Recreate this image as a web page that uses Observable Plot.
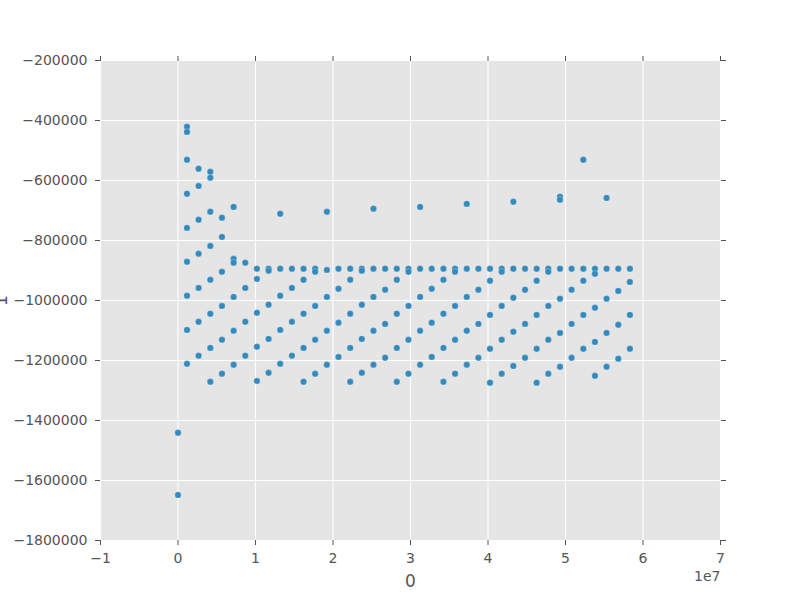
<!DOCTYPE html>
<html>
<head>
<meta charset="utf-8">
<script src="https://cdn.jsdelivr.net/npm/d3@7"></script>
<script src="https://cdn.jsdelivr.net/npm/@observablehq/plot@0.6"></script>
<style>
  html, body { margin: 0; padding: 0; background: #ffffff; }
  #chart { width: 800px; height: 600px; }
</style>
</head>
<body>
<div id="chart"></div>
<script>
// Column "0" (x) and column "1" (y) of the scatter.
const xValues = [
  0, 0,
  1.16e6, 1.16e6, 1.16e6, 1.16e6, 1.16e6, 1.16e6, 1.16e6, 1.16e6, 1.16e6,
  2.66e6, 2.66e6, 2.66e6, 2.66e6, 2.66e6, 2.66e6, 2.66e6,
  4.17e6, 4.17e6, 4.17e6, 4.17e6, 4.17e6, 4.17e6, 4.17e6, 4.17e6,
  5.67e6, 5.67e6, 5.67e6, 5.67e6, 5.67e6, 5.67e6,
  7.18e6, 7.18e6, 7.18e6, 7.18e6, 7.18e6, 7.18e6,
  8.68e6, 8.68e6, 8.68e6, 8.68e6,
  10.18e6, 10.18e6, 10.18e6, 10.18e6, 10.18e6,
  11.69e6, 11.69e6, 11.69e6, 11.69e6, 11.69e6,
  13.19e6, 13.19e6, 13.19e6, 13.19e6, 13.19e6,
  14.70e6, 14.70e6, 14.70e6, 14.70e6,
  16.20e6, 16.20e6, 16.20e6, 16.20e6, 16.20e6,
  17.70e6, 17.70e6, 17.70e6, 17.70e6, 17.70e6,
  19.21e6, 19.21e6, 19.21e6, 19.21e6, 19.21e6,
  20.71e6, 20.71e6, 20.71e6, 20.71e6,
  22.22e6, 22.22e6, 22.22e6, 22.22e6, 22.22e6,
  23.72e6, 23.72e6, 23.72e6, 23.72e6, 23.72e6,
  25.22e6, 25.22e6, 25.22e6, 25.22e6, 25.22e6,
  26.73e6, 26.73e6, 26.73e6, 26.73e6,
  28.23e6, 28.23e6, 28.23e6, 28.23e6, 28.23e6,
  29.74e6, 29.74e6, 29.74e6, 29.74e6, 29.74e6,
  31.24e6, 31.24e6, 31.24e6, 31.24e6, 31.24e6,
  32.74e6, 32.74e6, 32.74e6, 32.74e6,
  34.25e6, 34.25e6, 34.25e6, 34.25e6, 34.25e6,
  35.75e6, 35.75e6, 35.75e6, 35.75e6, 35.75e6,
  37.26e6, 37.26e6, 37.26e6, 37.26e6, 37.26e6,
  38.76e6, 38.76e6, 38.76e6, 38.76e6,
  40.26e6, 40.26e6, 40.26e6, 40.26e6, 40.26e6,
  41.77e6, 41.77e6, 41.77e6, 41.77e6, 41.77e6,
  43.27e6, 43.27e6, 43.27e6, 43.27e6, 43.27e6,
  44.78e6, 44.78e6, 44.78e6, 44.78e6,
  46.28e6, 46.28e6, 46.28e6, 46.28e6, 46.28e6,
  47.78e6, 47.78e6, 47.78e6, 47.78e6, 47.78e6,
  49.29e6, 49.29e6, 49.29e6, 49.29e6, 49.29e6, 49.29e6,
  50.79e6, 50.79e6, 50.79e6, 50.79e6,
  52.30e6, 52.30e6, 52.30e6, 52.30e6, 52.30e6,
  53.80e6, 53.80e6, 53.80e6, 53.80e6, 53.80e6,
  55.30e6, 55.30e6, 55.30e6, 55.30e6, 55.30e6,
  56.81e6, 56.81e6, 56.81e6, 56.81e6,
  58.31e6, 58.31e6, 58.31e6, 58.31e6
];

const yValues = [
  -1441000, -1648000,
  -421000, -438000, -531000, -644000, -758000, -871000, -984000, -1098000, -1211000,
  -561000, -618000, -731000, -844000, -958000, -1071000, -1184000,
  -571000, -591000, -704000, -818000, -931000, -1044000, -1158000, -1271000,
  -724000, -788000, -904000, -1018000, -1131000, -1244000,
  -688000, -861000, -874000, -988000, -1101000, -1214000,
  -874000, -958000, -1071000, -1184000,
  -894000, -928000, -1041000, -1154000, -1268000,
  -894000, -901000, -1014000, -1128000, -1241000,
  -711000, -894000, -984000, -1098000, -1211000,
  -894000, -958000, -1071000, -1184000,
  -894000, -931000, -1044000, -1158000, -1271000,
  -894000, -904000, -1018000, -1131000, -1244000,
  -704000, -898000, -988000, -1101000, -1214000,
  -894000, -961000, -1074000, -1188000,
  -894000, -931000, -1044000, -1158000, -1271000,
  -894000, -901000, -1014000, -1128000, -1241000,
  -694000, -894000, -988000, -1101000, -1214000,
  -894000, -964000, -1078000, -1191000,
  -894000, -931000, -1044000, -1158000, -1271000,
  -894000, -904000, -1018000, -1131000, -1244000,
  -688000, -894000, -988000, -1101000, -1214000,
  -894000, -961000, -1074000, -1188000,
  -894000, -931000, -1044000, -1158000, -1271000,
  -894000, -904000, -1018000, -1131000, -1244000,
  -678000, -894000, -988000, -1101000, -1214000,
  -894000, -964000, -1078000, -1191000,
  -894000, -934000, -1048000, -1161000, -1274000,
  -894000, -904000, -1018000, -1131000, -1244000,
  -671000, -894000, -991000, -1104000, -1218000,
  -894000, -964000, -1078000, -1191000,
  -894000, -934000, -1048000, -1161000, -1274000,
  -894000, -904000, -1018000, -1131000, -1244000,
  -654000, -664000, -894000, -994000, -1108000, -1221000,
  -894000, -964000, -1078000, -1191000,
  -531000, -894000, -934000, -1048000, -1161000,
  -894000, -911000, -1024000, -1138000, -1251000,
  -658000, -894000, -994000, -1108000, -1221000,
  -894000, -968000, -1081000, -1194000,
  -894000, -938000, -1048000, -1161000
];

const xTicks = [-1e7, 0, 1e7, 2e7, 3e7, 4e7, 5e7, 6e7, 7e7];
const yTicks = [-1800000, -1600000, -1400000, -1200000, -1000000, -800000, -600000, -400000, -200000];
const xLabel = "0";
const yLabel = "1";
const xOffsetText = "1e7";

const points = xValues.map((x, i) => ({x, y: yValues[i]}));
const fmtInt = d3.format("d");
const tickColor = "#555555";
const font = "DejaVu Sans, sans-serif";

const chart = Plot.plot({
  width: 800,
  height: 600,
  marginLeft: 100,
  marginRight: 80,
  marginTop: 60,
  marginBottom: 60,
  style: {background: "#ffffff", fontFamily: font, fontSize: "14px", color: tickColor},
  x: {domain: [-1e7, 7e7], label: null},
  y: {domain: [-1800000, -200000], label: null},
  marks: [
    Plot.frame({fill: "#E5E5E5", stroke: "none"}),
    Plot.gridX(xTicks, {stroke: "#ffffff", strokeOpacity: 1, strokeWidth: 1.1}),
    Plot.gridY(yTicks, {stroke: "#ffffff", strokeOpacity: 1, strokeWidth: 1.1}),
    Plot.dot(points, {x: "x", y: "y", r: 3.2, fill: "#348ABD", stroke: "#ffffff", strokeWidth: 0.5, strokeOpacity: 0.5}),
    Plot.axisX(xTicks, {anchor: "bottom", tickSize: 5, tickPadding: 8, tickFormat: d => fmtInt(d / 1e7), label: null, stroke: tickColor, fill: tickColor, fontSize: 14}),
    Plot.axisX(xTicks, {anchor: "top", tickSize: 5, tickFormat: () => "", label: null, stroke: tickColor}),
    Plot.axisY(yTicks, {anchor: "left", tickSize: 5, tickPadding: 8, tickFormat: fmtInt, label: null, stroke: tickColor, fill: tickColor, fontSize: 14}),
    Plot.axisY(yTicks, {anchor: "right", tickSize: 5, tickFormat: () => "", label: null, stroke: tickColor}),
    Plot.text([xLabel], {frameAnchor: "bottom", lineAnchor: "bottom", textAnchor: "middle", dy: 46.5, fontSize: 17, fill: tickColor}),
    Plot.text([xOffsetText], {frameAnchor: "bottom-right", lineAnchor: "bottom", textAnchor: "end", dy: 40.5, fontSize: 14, fill: tickColor}),
    Plot.text([yLabel], {frameAnchor: "left", lineAnchor: "bottom", textAnchor: "middle", rotate: -90, dx: -94, fontSize: 17, fill: tickColor})
  ]
});

document.getElementById("chart").appendChild(chart);
</script>
</body>
</html>
